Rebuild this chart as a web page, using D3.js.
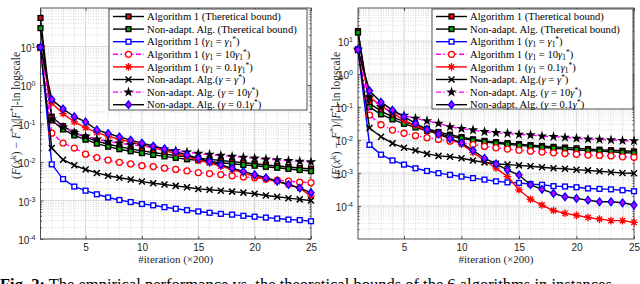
<!DOCTYPE html>
<html>
<head>
<meta charset="utf-8">
<script src="https://cdn.jsdelivr.net/npm/d3@7"></script>
<style>
  body { margin: 0; background: #fff; }
  svg { display: block; }
</style>
</head>
<body>
<svg id="fig" width="640" height="284"></svg>
<script>
// iterations (x200)
const iterations = [1, 2, 3, 4, 5, 6, 7, 8, 9, 10, 11, 12, 13, 14, 15, 16, 17, 18, 19, 20, 21, 22, 23, 24, 25];
const xTicks = [5, 10, 15, 20, 25];
const yExponents = [-4, -3, -2, -1, 0, 1, 2];

// left panel
const leftAlgTheory = [55, 0.15, 0.085, 0.058, 0.044, 0.035, 0.029, 0.025, 0.022, 0.0195, 0.0176, 0.016, 0.0147, 0.0136, 0.0126, 0.0117, 0.0109, 0.0102, 0.0096, 0.009, 0.0084, 0.0079, 0.0074, 0.007, 0.0066];
const leftNonTheory = [30, 0.12, 0.07, 0.049, 0.038, 0.030, 0.025, 0.0215, 0.019, 0.017, 0.0153, 0.014, 0.0128, 0.0118, 0.011, 0.0102, 0.0096, 0.009, 0.0084, 0.008, 0.0075, 0.0071, 0.0066, 0.0062, 0.0058];
const leftAlgG1 = [9.5, 0.0087, 0.0036, 0.0023, 0.0018, 0.00145, 0.0012, 0.00103, 0.00091, 0.00081, 0.00075, 0.00067, 0.00061, 0.00056, 0.00052, 0.00048, 0.00045, 0.00043, 0.0004, 0.00038, 0.00036, 0.00034, 0.00032, 0.00031, 0.00029];
const leftAlg10 = [9.5, 0.056, 0.031, 0.023, 0.016, 0.013, 0.0112, 0.0098, 0.0089, 0.008, 0.0076, 0.0069, 0.0064, 0.0059, 0.0053, 0.005, 0.0047, 0.0044, 0.0041, 0.0039, 0.0036, 0.0034, 0.0032, 0.003, 0.0029];
const leftAlg01 = [9.5, 0.34, 0.18, 0.11, 0.078, 0.058, 0.047, 0.039, 0.033, 0.028, 0.0235, 0.0198, 0.0166, 0.0138, 0.0112, 0.0094, 0.0078, 0.0064, 0.0052, 0.0042, 0.0036, 0.0031, 0.0026, 0.0021, 0.0013];
const leftNonG = [9.5, 0.023, 0.0115, 0.0082, 0.0064, 0.0052, 0.0044, 0.0039, 0.0035, 0.0031, 0.0028, 0.0026, 0.0024, 0.0022, 0.002, 0.0019, 0.0018, 0.0017, 0.0016, 0.0015, 0.00135, 0.00125, 0.00115, 0.00107, 0.001];
const leftNon10 = [9.5, 0.13, 0.08, 0.058, 0.046, 0.039, 0.034, 0.031, 0.028, 0.026, 0.0235, 0.0215, 0.0197, 0.018, 0.0166, 0.0156, 0.0147, 0.0139, 0.0132, 0.0125, 0.0119, 0.0113, 0.0108, 0.0104, 0.01];
const leftNon01 = [9.5, 0.42, 0.24, 0.15, 0.11, 0.068, 0.055, 0.045, 0.037, 0.031, 0.026, 0.022, 0.0185, 0.0153, 0.0125, 0.0102, 0.0084, 0.0069, 0.0057, 0.0047, 0.0039, 0.0032, 0.0026, 0.0021, 0.0016];

// right panel
const rightAlgTheory = [20, 0.13, 0.075, 0.05, 0.036, 0.028, 0.022, 0.0175, 0.0145, 0.0122, 0.0105, 0.0094, 0.0086, 0.008, 0.0075, 0.007, 0.0066, 0.0062, 0.0059, 0.0056, 0.0053, 0.0051, 0.0049, 0.0047, 0.0045];
const rightNonTheory = [18, 0.1, 0.06, 0.042, 0.031, 0.024, 0.019, 0.0155, 0.013, 0.0112, 0.0098, 0.0088, 0.008, 0.0074, 0.0069, 0.0064, 0.006, 0.0056, 0.0053, 0.005, 0.0048, 0.0046, 0.0044, 0.0042, 0.004];
const rightAlgG1 = [5.5, 0.0071, 0.0036, 0.0024, 0.0018, 0.00139, 0.00115, 0.00099, 0.00088, 0.00078, 0.0007, 0.00063, 0.00056, 0.00052, 0.0005, 0.00046, 0.00044, 0.0004, 0.00039, 0.00037, 0.00034, 0.00033, 0.00032, 0.0003, 0.00028];
const rightAlg10 = [5.5, 0.057, 0.029, 0.02, 0.016, 0.0135, 0.0118, 0.0104, 0.0092, 0.0082, 0.0072, 0.0064, 0.0058, 0.0053, 0.0049, 0.0046, 0.0043, 0.0041, 0.0039, 0.0037, 0.0035, 0.0034, 0.0033, 0.0031, 0.003];
const rightAlg01 = [5.5, 0.2, 0.11, 0.065, 0.04, 0.027, 0.02, 0.015, 0.011, 0.0075, 0.0042, 0.0024, 0.0014, 0.00078, 0.00031, 0.00016, 0.000107, 0.000073, 0.00006, 0.000052, 0.000045, 0.00004, 0.000036, 0.000036, 0.000032];
const rightNonG = [5.5, 0.023, 0.0126, 0.0079, 0.0058, 0.0048, 0.0038, 0.0033, 0.0031, 0.0028, 0.0024, 0.0021, 0.0019, 0.0018, 0.0017, 0.0016, 0.0015, 0.0014, 0.00135, 0.00125, 0.0012, 0.00113, 0.00106, 0.001, 0.00098];
const rightNon10 = [5.5, 0.2, 0.1, 0.068, 0.055, 0.045, 0.038, 0.032, 0.025, 0.022, 0.02, 0.0177, 0.0165, 0.0158, 0.0147, 0.0141, 0.0131, 0.0126, 0.012, 0.0112, 0.0106, 0.0104, 0.01, 0.0096, 0.0094];
const rightNon01 = [5.5, 0.31, 0.14, 0.08, 0.051, 0.032, 0.021, 0.015, 0.011, 0.0082, 0.0048, 0.0028, 0.0019, 0.00123, 0.00087, 0.00044, 0.00032, 0.00024, 0.00019, 0.00017, 0.00015, 0.000134, 0.000134, 0.000125, 0.000107];

// legend text, as pieces: [text, kind]  kind: n normal, i italic, sub, sup
const legendLabels = [
  [["Algorithm 1 (Theretical bound)", "n"]],
  [["Non-adapt. Alg. (Theretical bound)", "n"]],
  [["Algorithm 1 (", "n"], ["γ", "i"], ["1", "sub"], [" = ", "n"], ["γ", "i"], ["1", "sub"], ["*", "sup"], [")", "n"]],
  [["Algorithm 1 (", "n"], ["γ", "i"], ["1", "sub"], [" = 10", "n"], ["γ", "i"], ["1", "sub"], ["*", "sup"], [")", "n"]],
  [["Algorithm 1 (", "n"], ["γ", "i"], ["1", "sub"], [" = 0.1", "n"], ["γ", "i"], ["1", "sub"], ["*", "sup"], [")", "n"]],
  [["Non-adapt. Alg.(", "n"], ["γ", "i"], [" = ", "n"], ["γ", "i"], ["*", "sup"], [")", "n"]],
  [["Non-adapt. Alg. (", "n"], ["γ", "i"], [" = 10", "n"], ["γ", "i"], ["*", "sup"], [")", "n"]],
  [["Non-adapt. Alg. (", "n"], ["γ", "i"], [" = 0.1", "n"], ["γ", "i"], ["*", "sup"], [")", "n"]]
];

// line / marker style of each series, in legend order
const styles = [
  { color: "#000", dash: null, marker: "square", mStroke: "#000", mFill: "#ff0000" },
  { color: "#000", dash: null, marker: "square", mStroke: "#000", mFill: "#00b000" },
  { color: "#0000ff", dash: null, marker: "square", mStroke: "#0000ff", mFill: "#fff" },
  { color: "#ff00ff", dash: "5,2.5,1.5,2.5", marker: "circle", mStroke: "#ff0000", mFill: "#fff" },
  { color: "#ff0000", dash: null, marker: "asterisk", mStroke: "#ff0000", mFill: "none" },
  { color: "#000", dash: null, marker: "cross", mStroke: "#000", mFill: "none" },
  { color: "#ff00ff", dash: "5,2.5,1.5,2.5", marker: "star", mStroke: "#000", mFill: "#000" },
  { color: "#000", dash: null, marker: "diamond", mStroke: "#0000ff", mFill: "#c000ff" }
];

const svg = d3.select("#fig");
const serif = "'Liberation Serif', 'DejaVu Serif', serif";
const sans = "'Liberation Sans', Arial, sans-serif";
const axisColor = "#262626";

function drawMarker(g, type, cx, cy, st) {
  const m = g.append("g").attr("transform", `translate(${cx},${cy})`);
  if (type === "square") {
    m.append("rect").attr("x", -2.4).attr("y", -2.4).attr("width", 4.8).attr("height", 4.8)
      .attr("fill", st.mFill).attr("stroke", st.mStroke).attr("stroke-width", 1.4);
  } else if (type === "circle") {
    m.append("circle").attr("r", 3).attr("fill", st.mFill).attr("stroke", st.mStroke).attr("stroke-width", 1.3);
  } else if (type === "asterisk") {
    m.append("path").attr("d", "M-3.8,0H3.8M0,-3.8V3.8M-2.7,-2.7L2.7,2.7M-2.7,2.7L2.7,-2.7")
      .attr("stroke", st.mStroke).attr("stroke-width", 1.3);
  } else if (type === "cross") {
    m.append("path").attr("d", "M-3,-3L3,3M-3,3L3,-3").attr("stroke", st.mStroke).attr("stroke-width", 1.5);
  } else if (type === "star") {
    m.append("path").attr("d", d3.symbol(d3.symbolStar, 34)()).attr("fill", st.mFill);
  } else if (type === "diamond") {
    m.append("path").attr("d", "M0,-3.8L3,0L0,3.8L-3,0Z").attr("fill", st.mFill)
      .attr("stroke", st.mStroke).attr("stroke-width", 1.3);
  }
}

function writeRich(textSel, pieces, size) {
  pieces.forEach(([t, kind]) => {
    const ts = textSel.append("tspan").text(t);
    if (kind === "i") ts.attr("font-style", "italic");
    if (kind === "sub") ts.attr("font-size", size * 0.7).attr("baseline-shift", "-25%");
    if (kind === "sup") ts.attr("font-size", size * 0.7).attr("baseline-shift", "45%");
  });
}

function drawPanel(p) {
  const x = d3.scaleLinear().domain([1, 25]).range([p.left, p.right]);
  const y = d3.scaleLog().domain(p.yDomain).range([p.bottom, p.top]);
  const g = svg.append("g");

  // grid: minor dotted, major solid
  const minorY = y.ticks().filter(v => Math.abs(Math.log10(v) - Math.round(Math.log10(v))) > 1e-6);
  const majorY = yExponents.map(e => Math.pow(10, e)).filter(v => v < p.yDomain[1]);
  g.append("g").selectAll("line").data(minorY).join("line")
    .attr("x1", p.left).attr("x2", p.right).attr("y1", d => y(d)).attr("y2", d => y(d))
    .attr("stroke", "#bdbdbd").attr("stroke-width", 0.6).attr("stroke-dasharray", "1,1.5");
  g.append("g").selectAll("line").data(iterations.filter(d => d > 1 && !xTicks.includes(d))).join("line")
    .attr("x1", d => x(d)).attr("x2", d => x(d)).attr("y1", p.top).attr("y2", p.bottom)
    .attr("stroke", "#bdbdbd").attr("stroke-width", 0.6).attr("stroke-dasharray", "1,1.5");
  g.append("g").selectAll("line").data(majorY).join("line")
    .attr("x1", p.left).attr("x2", p.right).attr("y1", d => y(d)).attr("y2", d => y(d))
    .attr("stroke", "#dcdcdc").attr("stroke-width", 1.2);
  g.append("g").selectAll("line").data(xTicks.filter(d => d < 25)).join("line")
    .attr("x1", d => x(d)).attr("x2", d => x(d)).attr("y1", p.top).attr("y2", p.bottom)
    .attr("stroke", "#dcdcdc").attr("stroke-width", 1.2);

  // axes (ticks inside)
  const xAxis = g.append("g").attr("transform", `translate(0,${p.bottom})`)
    .call(d3.axisBottom(x).tickValues(xTicks).tickSize(-3).tickPadding(5));
  g.append("g").attr("transform", `translate(0,${p.top})`)
    .call(d3.axisTop(x).tickValues(xTicks).tickSize(-3).tickFormat(""));
  const yAxis = g.append("g").attr("transform", `translate(${p.left},0)`)
    .call(d3.axisLeft(y).tickValues(majorY).tickSize(-3).tickPadding(4).tickFormat(""));
  g.append("g").attr("transform", `translate(${p.right},0)`)
    .call(d3.axisRight(y).tickValues(majorY).tickSize(-3).tickFormat(""));
  g.append("g").attr("transform", `translate(${p.left},0)`)
    .call(d3.axisLeft(y).tickValues(minorY).tickSize(-1.6).tickFormat(""));
  g.append("g").attr("transform", `translate(${p.right},0)`)
    .call(d3.axisRight(y).tickValues(minorY).tickSize(-1.6).tickFormat(""));
  g.selectAll(".domain").remove();
  g.selectAll(".tick line").attr("stroke", axisColor).attr("stroke-width", 0.7);

  xAxis.selectAll("text").attr("font-family", sans).attr("font-size", 10).attr("fill", axisColor);
  // y tick labels 10^e
  yAxis.selectAll(".tick").each(function (d) {
    const t = d3.select(this).select("text")
      .attr("font-family", sans).attr("font-size", 10).attr("fill", axisColor)
      .attr("x", -5).attr("dy", "0.45em");
    t.append("tspan").text("10");
    t.append("tspan").text(String(Math.round(Math.log10(d))))
      .attr("font-size", 7).attr("dy", "-0.55em");
  });

  // box
  g.append("rect").attr("x", p.left).attr("y", p.top)
    .attr("width", p.right - p.left).attr("height", p.bottom - p.top)
    .attr("fill", "none").attr("stroke", axisColor).attr("stroke-width", 0.8);

  // series
  const line = d3.line().x((d, i) => x(iterations[i])).y(d => y(d));
  p.series.forEach((vals, k) => {
    const st = styles[k];
    g.append("path").datum(vals).attr("d", line)
      .attr("fill", "none").attr("stroke", st.color).attr("stroke-width", 1.4)
      .attr("stroke-dasharray", st.dash);
    const mg = g.append("g");
    vals.forEach((v, i) => drawMarker(mg, st.marker, x(iterations[i]), y(v), st));
  });

  // legend
  const lg = g.append("g");
  lg.append("rect").attr("x", p.legend.x).attr("y", p.legend.y)
    .attr("width", p.legend.w).attr("height", p.legend.h)
    .attr("fill", "#fff").attr("stroke", axisColor).attr("stroke-width", 0.8);
  legendLabels.forEach((pieces, k) => {
    const st = styles[k];
    const cy = p.legend.y + 7.5 + k * 12.6;
    const x0 = p.legend.x + 4, x1 = x0 + 31;
    lg.append("line").attr("x1", x0).attr("x2", x1).attr("y1", cy).attr("y2", cy)
      .attr("stroke", st.color).attr("stroke-width", 1.4).attr("stroke-dasharray", st.dash);
    drawMarker(lg, st.marker, (x0 + x1) / 2, cy, st);
    const t = lg.append("text").attr("x", x1 + 3).attr("y", cy + 3.6)
      .attr("font-family", serif).attr("font-size", 10.6).attr("fill", "#000");
    writeRich(t, pieces, 10.6);
  });

  // axis labels
  g.append("text").attr("x", (p.left + p.right) / 2).attr("y", 263)
    .attr("text-anchor", "middle").attr("font-family", serif).attr("font-size", 11)
    .attr("fill", axisColor).text("#iteration (×200)");
  const yl = g.append("text").attr("text-anchor", "middle")
    .attr("transform", `translate(${p.ylabelX},${(p.top + p.bottom) / 2 - 8}) rotate(-90)`)
    .attr("font-family", serif).attr("font-size", 11.5).attr("fill", axisColor);
  writeRich(yl, [["(", "n"], ["F", "i"], ["(", "n"], ["x", "i"], ["k", "sup"], [") − ", "n"], ["F", "i"],
    ["*", "sup"], [")/|", "n"], ["F", "i"], ["*", "sup"], ["|-in logscale", "n"]], 11.5);
}

drawPanel({
  left: 40.5, right: 311, top: 8, bottom: 239, yDomain: [1e-4, 100], ylabelX: 20,
  legend: { x: 109, y: 9, w: 198, h: 101 },
  series: [leftAlgTheory, leftNonTheory, leftAlgG1, leftAlg10, leftAlg01, leftNonG, leftNon10, leftNon01]
});
drawPanel({
  left: 358, right: 634, top: 8, bottom: 239, yDomain: [1e-5, 100], ylabelX: 340,
  legend: { x: 432, y: 9, w: 201, h: 100 },
  series: [rightAlgTheory, rightNonTheory, rightAlgG1, rightAlg10, rightAlg01, rightNonG, rightNon10, rightNon01]
});

// caption (cut off by the bottom edge as in the source)
const cap = svg.append("text").attr("x", 0).attr("y", 290)
  .attr("font-family", serif).attr("font-size", 16.5).attr("fill", "#000");
cap.append("tspan").attr("font-weight", "bold").text("Fig. 2:");
cap.append("tspan").text(" The empirical performance vs. the theoretical bounds of the 6 algorithms in instances");
</script>
</body>
</html>
